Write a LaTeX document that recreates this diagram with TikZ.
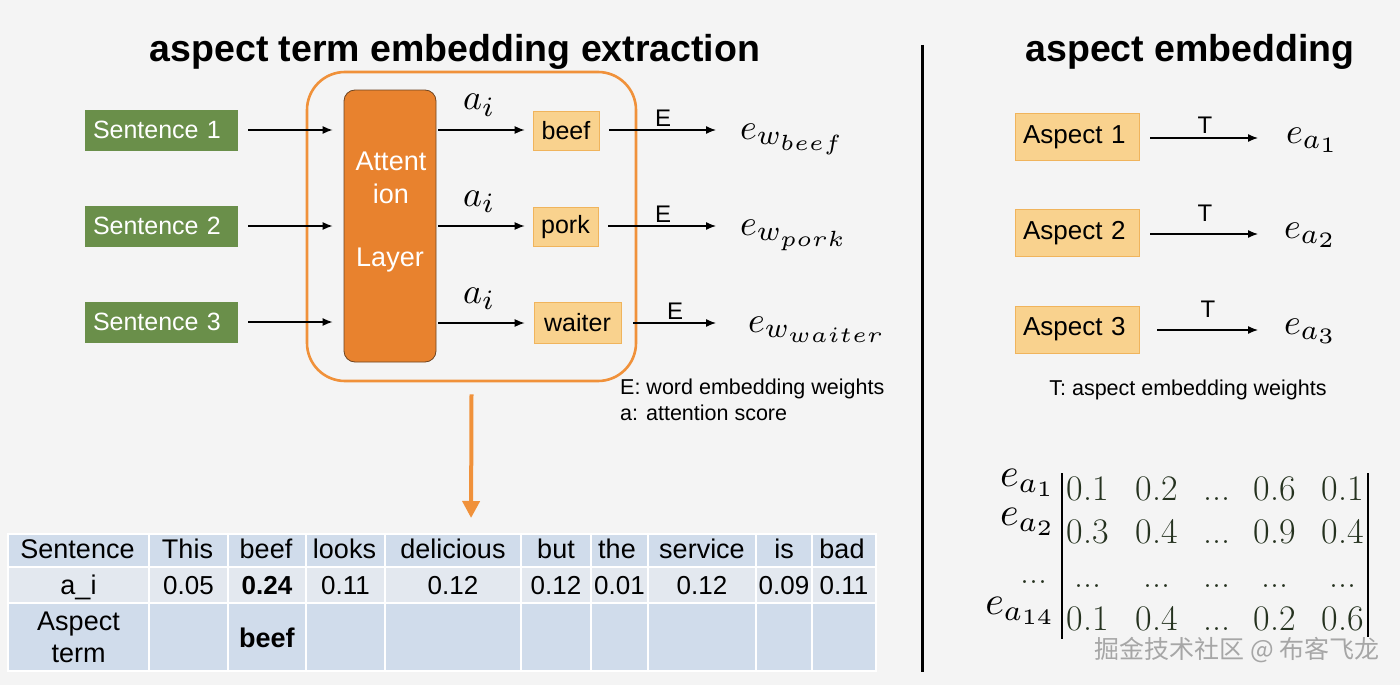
\documentclass[tikz,border=0pt]{standalone}
\usepackage{fix-cm}
\DeclareFontShape{OML}{cmm}{m}{it}{<-23.5>cmmi5<23.5-31>cmmi7<31->cmmi10}{\skewchar\font'177}
\DeclareFontShape{OT1}{cmr}{m}{n}{<-23.5>cmr5<23.5-31>cmr7<31->cmr10}{}
\DeclareMathSizes{36}{36}{28}{22}
\DeclareMathSizes{40}{40}{29}{22}
\usepackage[no-math]{fontspec}
\setsansfont{Liberation Sans}
\newfontfamily\cjkfont{Noto Sans CJK SC}
\usetikzlibrary{arrows.meta}
\definecolor{bg}{HTML}{F4F4F4}
\definecolor{sgreen}{HTML}{6A8F4A}
\definecolor{attor}{HTML}{E8822E}
\definecolor{attdr}{HTML}{6E4420}
\definecolor{wfill}{HTML}{F9D28E}
\definecolor{wdraw}{HTML}{F0B45C}
\definecolor{grpor}{HTML}{F0913A}
\definecolor{tblA}{HTML}{D0DCEB}
\definecolor{tblB}{HTML}{E3E8EF}
\definecolor{wmgray}{HTML}{A6A6A6}
\definecolor{numcol}{HTML}{25321F}
\newcommand{\mydots}{...}
\begin{document}
\begin{tikzpicture}[x=1pt,y=-1pt,
  sf/.style={font=\sffamily\fontsize{#1}{#1}\selectfont},
  sentbox/.style={fill=sgreen, text=white, text width=137pt, align=left, inner xsep=8pt, inner ysep=0pt, minimum height=41pt, sf=25},
  wordbox/.style={fill=wfill, draw=wdraw, line width=0.7pt, inner sep=0pt, minimum height=39pt, sf=25},
  aspbox/.style={fill=wfill, draw=wdraw, line width=0.8pt, text width=108pt, align=left, inner xsep=8pt, inner ysep=0pt, minimum height=47pt, sf=26},
  mathlbl/.style={font=\fontsize{36}{40}\selectfont, inner sep=0pt},
  matlbl/.style={font=\fontsize{40}{44}\selectfont, inner sep=0pt, anchor=base east},
  num/.style={font=\fontsize{36}{40}\selectfont, inner sep=0pt, anchor=base, text=numcol},
  arr/.style={-{Latex[length=10pt,width=8pt]}, line width=1.3pt, black},
  lbl/.style={sf=24, inner sep=0pt, anchor=base},
  tcell/.style={sf=27, inner sep=0pt, anchor=base},
  tnum/.style={sf=26, inner sep=0pt, anchor=base},
  atttext/.style={sf=27, text=white, inner sep=0pt},
  title/.style={font=\sffamily\bfseries\fontsize{37.5}{40}\selectfont, inner sep=0pt, anchor=base},
  legend/.style={sf=21.5, inner sep=0pt, anchor=base west}
]
\useasboundingbox (0,0) rectangle (1400,685);
\fill[bg] (0,0) rectangle (1400,685);

% titles
\node[title] (t1) at (455,62) {aspect term embedding extraction};
\node[title] (t2) at (1190,62) {aspect embedding};

% divider
\draw[line width=3pt] (922,45) coordinate (dv1) -- (922,672) coordinate (dv2);

% group box
\node[draw=grpor, line width=2.6pt, rounded corners=38pt, minimum width=329pt, minimum height=309pt, inner sep=0pt] (grp) at (471.5,226.5) {};

% sentences
\node[sentbox] (s1) at (161.5,130) {Sentence 1};
\node[sentbox] (s2) at (161.5,226) {Sentence 2};
\node[sentbox] (s3) at (161.5,322) {Sentence 3};

% attention layer
\node[fill=attor, draw=attdr, line width=0.8pt, rounded corners=11pt, minimum width=92pt, minimum height=272pt, inner sep=0pt] (att) at (390,226) {};
\node[atttext] (at1) at (391,161) {Attent};
\node[atttext] (at2) at (391,194) {ion};
\node[atttext] (at3) at (390,260) {Layer};

\foreach \s in {s1,s2,s3}
  \draw[arr, shorten <=10pt, shorten >=11pt] (\s.east) -- (\s.east -| att.west);

% word boxes
\node[wordbox, minimum width=66pt] (w1) at (566,131) {beef};
\node[wordbox, minimum width=65pt] (w2) at (565.5,227) {pork};
\node[wordbox, minimum width=87pt, minimum height=41pt] (w3) at (577.5,322.5) {waiter};

\draw[arr, shorten <=2pt, shorten >=8pt] (att.east |- 0,130) -- (w1.west |- 0,130);
\draw[arr, shorten <=2pt, shorten >=8pt] (att.east |- 0,226) -- (w2.west |- 0,226);
\draw[arr, shorten <=2pt, shorten >=9pt] (att.east |- 0,323) -- (w3.west |- 0,323);
\node[mathlbl, anchor=base west] (ai1) at (463,110) {$a_i$};
\node[mathlbl, anchor=base west] (ai2) at (463,206) {$a_i$};
\node[mathlbl, anchor=base west] (ai3) at (463,303) {$a_i$};

% embeddings of words
\node[mathlbl, anchor=base west] (ew1) at (740,139) {$e_{w_{beef}}$};
\node[mathlbl, anchor=base west] (ew2) at (740,235) {$e_{w_{pork}}$};
\node[mathlbl, anchor=base west] (ew3) at (748,332) {$e_{w_{waiter}}$};
\draw[arr, shorten <=10pt] (w1.east |- 0,130) -- (716,130) coordinate (ew1in);
\draw[arr, shorten <=10pt] (w2.east |- 0,226) -- (716,226) coordinate (ew2in);
\draw[arr, shorten <=12pt] (w3.east |- 0,323) -- (716,323) coordinate (ew3in);
\node[lbl] (E1) at (663,126) {E};
\node[lbl] (E2) at (663,222) {E};
\node[lbl] (E3) at (675,319) {E};

% legend
\node[legend] (lg1) at (620,394) {E: word embedding weights};
\node[legend] (lg2) at (620,420) {a: attention score};

% orange arrow to table
\coordinate (tabtop) at (471,534);
\draw[draw=grpor, line width=4pt, -{Triangle[length=17pt,width=17pt]}, shorten >=16pt] ([yshift=-12pt]grp.south) -- (tabtop);

% table
\def\rowA{534}\def\rowB{567}\def\rowC{603}\def\rowD{671}
\foreach \a/\b in {8/149,149/228,228/306,306/385,385/521,521/591,591/648,648/756,756/812,812/876}{
  \path[fill=tblA, draw=white, line width=1.2pt] (\a,\rowA) rectangle (\b,\rowB);
  \path[fill=tblB, draw=white, line width=1.2pt] (\a,\rowB) rectangle (\b,\rowC);
  \path[fill=tblA, draw=white, line width=1.2pt] (\a,\rowC) rectangle (\b,\rowD);
}
\foreach \x/\t [count=\i] in {77.5/Sentence,187.5/This,266/beef,344.5/looks,453/delicious,556/but,617/the,702/service,784/is,842/bad}
  \node[tcell] (h\i) at (\x,558) {\t};
\node[tcell] (v1) at (78.5,594) {a\_i};
\foreach \x/\t [count=\i from 2] in {188.5/0.05,267/\textbf{0.24},345.5/0.11,453/0.12,556/0.12,619.5/0.01,702/0.12,784/0.09,844/0.11}
  \node[tnum] (v\i) at (\x,594) {\t};
\node[tcell] (asp1) at (78.5,630) {Aspect};
\node[tcell] (asp2) at (78.5,662) {term};
\node[tcell] (aspv) at (267,647) {\textbf{beef}};

% right: aspects
\node[aspbox] (A1) at (1077,137) {Aspect 1};
\node[aspbox] (A2) at (1077,233) {Aspect 2};
\node[aspbox] (A3) at (1077,329.5) {Aspect 3};
\node[mathlbl, anchor=base west] (ea1) at (1286,143) {$e_{a_1}$};
\node[mathlbl, anchor=base west] (ea2) at (1284,238) {$e_{a_2}$};
\node[mathlbl, anchor=base west] (ea3) at (1284,334) {$e_{a_3}$};
\draw[arr, shorten <=11pt] (A1.east |- 0,138) -- (1258,138) coordinate (ea1in);
\draw[arr, shorten <=11pt] (A2.east |- 0,234) -- (1258,234) coordinate (ea2in);
\draw[arr, shorten <=18pt] (A3.east |- 0,330) -- (1258,330) coordinate (ea3in);
\node[lbl] (T1) at (1205,133) {T};
\node[lbl] (T2) at (1205,221) {T};
\node[lbl] (T3) at (1208,317) {T};
\node[legend, anchor=base] (lg3) at (1188,395) {T: aspect embedding weights};

% matrix
\node[matlbl] (m1) at (1053,486) {$e_{a_1}$};
\node[matlbl] (m2) at (1053,525) {$e_{a_2}$};
\node[num, anchor=base east] (m3) at (1048,583) {\mydots};
\node[matlbl] (m4) at (1053,614) {$e_{a_{14}}$};
\draw[line width=1.6pt] (1062,473) coordinate (bl1) -- (1062,639) coordinate (bl2);
\draw[line width=1.6pt] (1368,473) coordinate (br1) -- (1368,637) coordinate (br2);
\foreach \x/\t [count=\i] in {1088/0.1,1157/0.2,1217/\mydots,1275/0.6,1343/0.1} \node[num] (r1c\i) at (\x,500) {\t};
\foreach \x/\t [count=\i] in {1088/0.3,1157/0.4,1217/\mydots,1275/0.9,1343/0.4} \node[num] (r2c\i) at (\x,543) {\t};
\foreach \x [count=\i] in {1088,1157,1217,1275,1343} \node[num] (r3c\i) at (\x,587) {\mydots};
\foreach \x/\t [count=\i] in {1088/0.1,1157/0.4,1217/\mydots,1275/0.2,1343/0.6} \node[num] (r4c\i) at (\x,630) {\t};

% watermark
\node[font=\cjkfont\fontsize{25}{28}\selectfont, text=wmgray, inner sep=0pt] (wm) at (1237,650) {掘金技术社区 @ 布客飞龙};
\end{tikzpicture}
\end{document}
